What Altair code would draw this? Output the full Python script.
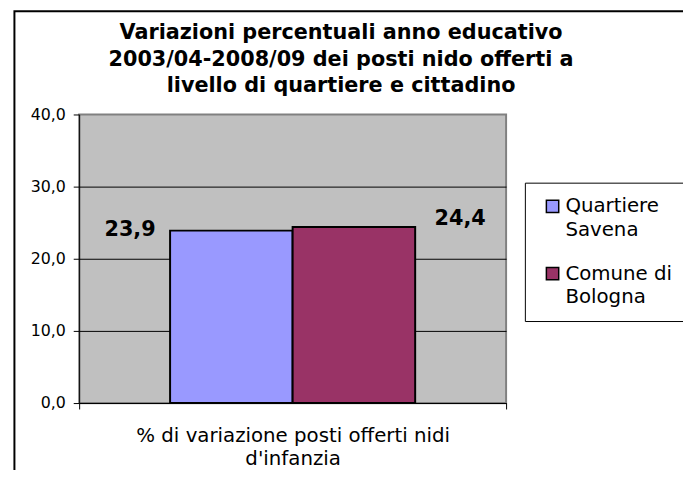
import altair as alt
import pandas as pd

# ---- data -------------------------------------------------------------
categoria = "% di variazione posti offerti nidi d'infanzia"
titolo_asse_x = ["% di variazione posti offerti nidi", "d'infanzia"]
serie = ["Quartiere Savena", "Comune di Bologna"]
valori = [23.9, 24.4]
colori = ["#9999FF", "#993366"]
y_ticks = [0, 10, 20, 30, 40]
titolo = [
    "Variazioni percentuali anno educativo",
    "2003/04-2008/09 dei posti nido offerti a",
    "livello di quartiere e cittadino",
]

df = pd.DataFrame({"cat": [categoria] * len(serie), "serie": serie, "valore": valori})
one_df = pd.DataFrame({"f": [0]})

FONT = "DejaVu Sans"

x_enc = alt.X(
    "cat:N",
    scale=alt.Scale(paddingInner=0, paddingOuter=0),
    axis=alt.Axis(
        labels=False,
        tickBand="extent",
        tickSize=6,
        tickColor="black",
        domainColor="black",
        title=titolo_asse_x,
        titleFont=FONT,
        titleFontSize=20,
        titleFontWeight="normal",
        titleColor="black",
        titlePadding=16,
        titleLineHeight=24,
    ),
)
xo_enc = alt.XOffset("serie:N", sort=serie, scale=alt.Scale(paddingInner=0, paddingOuter=0.742))
y_enc = alt.Y(
    "valore:Q",
    scale=alt.Scale(domain=[0, 40], nice=False),
    axis=alt.Axis(
        values=y_ticks,
        labelExpr="replace(format(datum.value, '.1f'), '.', ',')",
        labelFont=FONT,
        labelFontSize=16,
        labelColor="black",
        labelPadding=8,
        tickSize=6,
        tickColor="black",
        domainColor="black",
        grid=True,
        gridColor={"condition": {"test": "datum.value >= 40", "value": "transparent"}, "value": "black"},
        gridWidth=1,
        title=None,
    ),
)
color_enc = alt.Color(
    "serie:N",
    sort=serie,
    scale=alt.Scale(domain=serie, range=colori),
    legend=alt.Legend(
        title=None,
        orient="none",
        legendX=451,
        legendY=69,
        fillColor="white",
        strokeColor="black",
        padding=14,
        symbolType="square",
        symbolSize=156,
        symbolOffset=4,
        symbolStrokeColor="black",
        symbolStrokeWidth=1.5,
        symbolOpacity=1,
        labelFont=FONT,
        labelFontSize=20,
        labelColor="black",
        labelLimit=400,
        labelOffset=3,
        labelBaseline="middle",
        rowPadding=24,
        labelExpr="[slice(datum.label, 0, lastindexof(datum.label, ' ')) + '\u2800\u2800', slice(datum.label, lastindexof(datum.label, ' ') + 1)]",
    ),
)

frame = alt.Chart(one_df).mark_rect(filled=False, stroke="black", strokeWidth=2).encode(
    x=alt.value(-65.5), x2=alt.value(800), y=alt.value(-104.5), y2=alt.value(600)
)

title_mark = alt.Chart(one_df).mark_text(
    text=titolo, font=FONT, fontSize=21, fontWeight="bold", color="black",
    align="center", baseline="top", lineHeight=26.5,
).encode(x=alt.value(265), y=alt.value(-93))

base = alt.Chart(df)
bars = base.mark_bar(stroke="black", strokeWidth=2).encode(
    x=x_enc, xOffset=xo_enc, y=y_enc, color=color_enc
)

label_calc = "replace(format(datum.valore, '.1f'), '.', ',')"
lab1 = base.transform_filter(alt.datum.serie == serie[0]).transform_calculate(
    lab=label_calc
).mark_text(font=FONT, fontSize=21, fontWeight="bold", color="black",
            baseline="alphabetic", dx=-102.5, dy=5.5).encode(
    x="cat:N", xOffset=alt.XOffset("serie:N", sort=serie), y="valore:Q", text="lab:N"
)
lab2 = base.transform_filter(alt.datum.serie == serie[1]).transform_calculate(
    lab=label_calc
).mark_text(font=FONT, fontSize=21, fontWeight="bold", color="black",
            baseline="alphabetic", dx=107.5, dy=-2).encode(
    x="cat:N", xOffset=alt.XOffset("serie:N", sort=serie), y="valore:Q", text="lab:N"
)

chart = (
    alt.layer(frame, title_mark, bars, lab1, lab2)
    .properties(
        width=432,
        height=292,
        autosize=alt.AutoSizeParams(type="none"),
        padding={"left": 72, "top": 105, "right": 179, "bottom": 65},
        background="white",
    )
    .configure(style={"guide-label": {"lineHeight": 24}})
    .configure_view(fill="#C0C0C0", stroke="#808080", strokeWidth=2)
)

chart.save("out.html", embed_options={"renderer": "svg", "actions": False})
